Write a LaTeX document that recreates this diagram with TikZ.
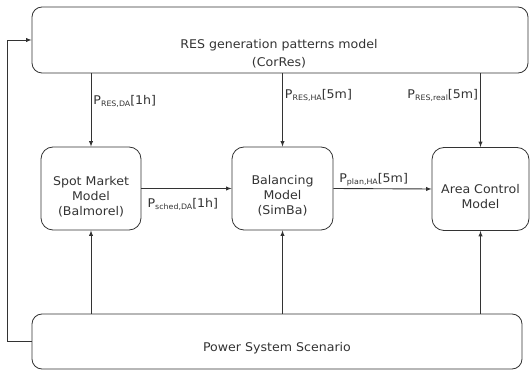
\documentclass[tikz,border=0pt]{standalone}
\usepackage{fontspec}
\setmainfont[FakeStretch=1.05]{DejaVu Sans}
\usetikzlibrary{arrows}
\usepackage{tikz}

\definecolor{ink}{RGB}{51,51,51}
\newcommand{\psub}[1]{\raisebox{-0.3ex}{\fontsize{7.5}{7.5}\selectfont #1}}
\tikzset{
  box/.style={rectangle,rounded corners=12pt,draw=ink,line width=0.8pt},
  txt/.style={text=ink,align=center,font=\fontsize{12}{15}\selectfont},
  lbl/.style={text=ink,inner sep=2pt,font=\fontsize{12}{13}\selectfont},
  arr/.style={draw=ink,line width=0.9pt,-latex}
}

\begin{document}
\begin{tikzpicture}[x=1pt,y=-1pt]
\useasboundingbox (0,0) rectangle (530,371);
% models
\node[box,rounded corners=10pt,minimum width=496,minimum height=66] (res) at (280,40) {};
\node[txt] (restxt) at (279,54) {RES generation patterns model\\[3pt](CorRes)};
\node[box,minimum width=100,minimum height=83] (spot) at (91,188.5) {};
\node[txt] (spottxt) at (91,197) {Spot Market\\Model\\(Balmorel)};
\node[box,minimum width=101,minimum height=83] (bal) at (282.5,188.5) {};
\node[txt] (baltxt) at (282.5,196) {Balancing\\Model\\(SimBa)};
\node[box,minimum width=97,minimum height=83] (acm) at (480.5,189) {};
\node[txt] (acmtxt) at (480.5,197) {Area Control\\Model};
\node[box,rounded corners=10pt,minimum width=490,minimum height=55] (pss) at (277,341.5) {};
\node[txt] (psstxt) at (277,348) {Power System Scenario};
% data flows
\draw[arr] (spot.north |- res.south) -- node[lbl,right,pos=0.38] (pda) {P\psub{RES,DA}[1h]} (spot.north);
\draw[arr] (bal.north |- res.south) -- node[lbl,right,pos=0.3] (pha) {P\psub{RES,HA}[5m]} (bal.north);
\draw[arr] (acm.north |- res.south) -- node[lbl,left,pos=0.3] (preal) {P\psub{RES,real}[5m]} (acm.north);
\draw[arr] (spot.east) -- node[lbl,below=7pt,pos=0.46] (psched) {P\psub{sched,DA}[1h]} (bal.west);
\draw[arr] (bal.east) -- node[lbl,above,pos=0.41] (pplan) {P\psub{plan,HA}[5m]} (acm.west);
\draw[arr] (spot.south |- pss.north) -- (spot.south);
\draw[arr] (bal.south |- pss.north) -- (bal.south);
\draw[arr] (acm.south |- pss.north) -- (acm.south);
\draw[arr] (pss.west) -- ++(-24,0) |- (res.west);
\end{tikzpicture}
\end{document}
